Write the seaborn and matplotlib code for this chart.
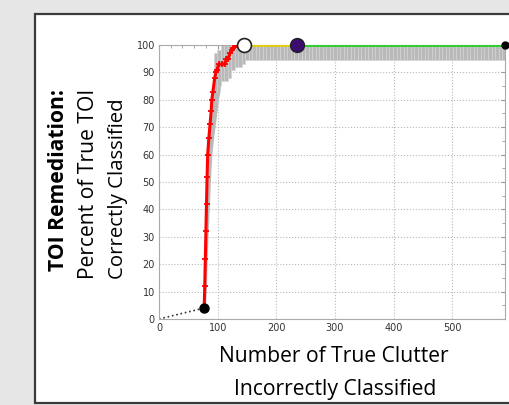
import numpy as np
import pandas as pd
import matplotlib.pyplot as plt
from matplotlib.patches import Rectangle
import seaborn as sns

# ROC-style curve values
curve_x = [77, 78, 79, 80, 81, 82, 83, 85, 87, 89, 90, 92, 95, 97, 99, 102, 107, 112, 115, 118, 121, 124, 127, 133, 141, 145]
curve_y = [4, 12, 22, 32, 42, 52, 60, 66, 71, 76, 80, 83, 88, 90, 91, 93, 93, 93, 95, 95, 97, 98, 99, 100, 100, 100]

# gray uncertainty band: right edge along the steep part (first 14 curve points)
band_right = [79, 81, 82, 84, 86, 88, 90, 93, 96, 99, 101, 104, 106, 108]
# stepped bars near the knee
step_x = [96, 102, 108, 114, 120, 126, 132, 138, 144]
step_lo = [83, 85, 87, 87, 88, 91, 92, 92, 93]
step_hi = [97, 98, 100, 100, 100, 100, 100, 100, 100]
# flat part of the band
flat_lo, flat_hi = 94.5, 100
flat_start, flat_end = 150, 590

origin = (0, 0)
start_pt = (77, 4)
white_pt = (145, 100)
purple_pt = (235, 100)
end_pt = (590, 100)

sns.set_style("white")
fig = plt.figure(figsize=(5.1, 4.05), dpi=100)
fig.patch.set_facecolor("#e6e6e6")
panel = Rectangle((35 / 510, 1 - 403 / 405), 1, (403 - 14) / 405,
                  transform=fig.transFigure, facecolor="white",
                  edgecolor="#3a3a3a", linewidth=1.6, zorder=-5)
fig.add_artist(panel)

ax = fig.add_axes([159 / 510, 86 / 405, 346 / 510, 274 / 405])
ax.set_zorder(2)
ax.set_facecolor("white")

band_color = "#b9b9b9"
n = len(band_right)
ax.fill_betweenx(curve_y[:n], np.array(curve_x[:n]) - 1, band_right, color=band_color, lw=0, zorder=1)
ax.bar(step_x, np.array(step_hi) - np.array(step_lo), bottom=step_lo, width=6,
       color=band_color, edgecolor="#d4d4d4", linewidth=0.4, zorder=1)
bar_x = np.arange(flat_start, flat_end + 1, 6)
ax.bar(bar_x, flat_hi - flat_lo, bottom=flat_lo, width=6, color=band_color,
       edgecolor="#d4d4d4", linewidth=0.4, zorder=1)

# dotted segment from origin
ax.plot([origin[0], start_pt[0]], [origin[1], start_pt[1]], ls=":", color="#333333", lw=1.2, zorder=2)

df = pd.DataFrame({"x": curve_x, "y": curve_y})
sns.lineplot(data=df, x="x", y="y", sort=False, ax=ax, color="red", lw=2.2,
             marker="+", markersize=4, markeredgewidth=1.3, markeredgecolor="red", zorder=3)

ax.plot([white_pt[0], purple_pt[0]], [100, 100], color="#e3cf00", lw=2.6, zorder=3)
ax.plot([purple_pt[0], end_pt[0]], [100, 100], color="#2bd02b", lw=2.8, zorder=3)

ax.plot(*start_pt, "o", color="black", ms=6.5, zorder=5, clip_on=False)
ax.plot(*white_pt, "o", mfc="white", mec="#222222", mew=1.2, ms=10, zorder=5, clip_on=False)
ax.plot(*purple_pt, "o", mfc="#3b0d6e", mec="#222222", mew=1.0, ms=10, zorder=5, clip_on=False)
ax.plot(*end_pt, "o", color="black", ms=5, zorder=5, clip_on=False)

ax.set_xlim(0, 590)
ax.set_ylim(0, 100)
ax.set_xticks([0, 100, 200, 300, 400, 500])
ax.set_yticks(range(0, 101, 10))
ax.set_xticks(np.arange(0, 591, 20), minor=True)
ax.set_yticks(np.arange(0, 101, 5), minor=True)
ax.grid(True, which="major", ls=":", color="#b8b8b8", lw=0.8)
ax.tick_params(axis="both", which="both", direction="in", top=True, right=True,
               labelsize=7, labelcolor="#333333", color="#999999", length=2, pad=3)
ax.tick_params(axis="both", which="major", length=3)
for s in ax.spines.values():
    s.set_color("#aaaaaa")
    s.set_linewidth(0.8)

ax.set_xlabel("")
ax.set_ylabel("")

fam = ["Open Sans", "DejaVu Sans"]
fs = 15.2
fig.text(59 / 510, 1 - 180 / 405, "TOI Remediation:", rotation=90, ha="center", va="center",
         fontsize=fs, fontweight="bold", family=fam, color="black")
fig.text(89 / 510, 1 - 184 / 405, "Percent of True TOI", rotation=90, ha="center", va="center",
         fontsize=fs, family=fam, color="black")
fig.text(118 / 510, 1 - 189 / 405, "Correctly Classified", rotation=90, ha="center", va="center",
         fontsize=fs - 0.5, family=fam, color="black")
fig.text(334 / 510, 1 - 357 / 405, "Number of True Clutter", ha="center", va="center",
         fontsize=fs, family=fam, color="black")
fig.text(335 / 510, 1 - 389 / 405, "Incorrectly Classified", ha="center", va="center",
         fontsize=fs, family=fam, color="black")

fig.savefig("out.png", dpi=100, facecolor=fig.get_facecolor())
